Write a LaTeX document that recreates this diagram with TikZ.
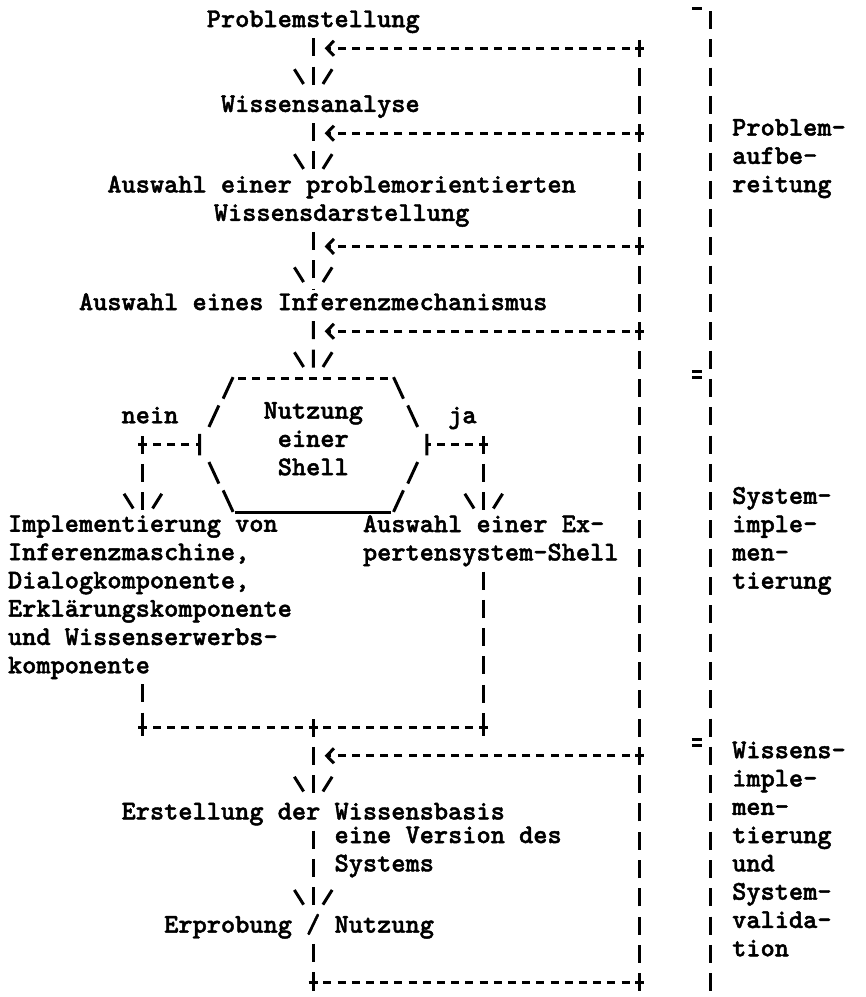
\documentclass[tikz,border=0pt]{standalone}
\usepackage{fontspec}
\usetikzlibrary{arrows.meta}

\newfontfamily\asciifont{lmmonolt10-bold.otf}[FakeBold=1.6]
\newcommand{\rowstrut}{\rule[-3pt]{0pt}{13.6pt}}

\begin{document}
\begin{tikzpicture}[x=7.1pt, y=-14.15pt, line width=1.5pt,
		txt/.style={font=\asciifont\fontsize{13.52pt}{14.15pt}\selectfont, inner sep=0pt, outer sep=0pt, anchor=north west, execute at begin node=\rowstrut, execute at end node=\rowstrut},
		vbar/.style={dash pattern=on 9pt off 5.15pt, dash phase=#1}, vbar/.default=4.5pt,
		hbar/.style={dash pattern=on 4pt off 3.1pt, dash phase=#1}, hbar/.default=2pt,
		back/.style={hbar, -{Straight Barb[length=3.6pt, width=7.5pt]}},
		vee/.pic={\draw (-1.33,-0.76) -- (-0.68,-0.24); \draw (1.33,-0.76) -- (0.68,-0.24);},
		knot/.pic={\draw (-0.32,0) -- (0.32,0) (0,-0.3) -- (0,0.3);}]
		\useasboundingbox (-0.563,-0.707) rectangle (60.423,34.523);

		\node[txt] (prob) at (14,-0.5) {Problemstellung};
		\node[txt] (wana) at (15,2.5) {Wissensanalyse};
		\node[txt, align=center] (wdar) at (7,5.5) {Auswahl einer problemorientierten\\Wissensdarstellung};
		\node[txt] (infm) at (5,9.5) {Auswahl eines Inferenzmechanismus};
		\node[txt, align=center] (shell) at (18,13.5) {Nutzung\\einer\\Shell};
		\node[txt] (nein) at (8,13.5) {nein};
		\node[txt] (ja) at (31,13.5) {ja};
		\node[txt, align=left] (impl) at (0,17.5) {Implementierung von\\Inferenzmaschine,\\Dialogkomponente,\\Erklärungskomponente\\und Wissenserwerbs-\\komponente};
		\node[txt, align=left] (shsel) at (25,17.5) {Auswahl einer Ex-\\pertensystem-Shell};
		\node[txt] (wbasis) at (8,27.5) {Erstellung der Wissensbasis};
		\node[txt, align=left] (version) at (23,28.5) {eine Version des\\Systems};
		\node[txt] (erprob) at (11,31.5) {Erprobung / Nutzung};

		\node[txt, align=left] (paufb) at (51,3.5) {Problem-\\aufbe-\\reitung};
		\node[txt, align=left] (psys) at (51,16.5) {System-\\imple-\\men-\\tierung};
		\node[txt, align=left] (pwiss) at (51,25.5) {Wissens-\\imple-\\men-\\tierung\\und\\System-\\valida-\\tion};

		\coordinate (hexn) at (21.5,12.5);
		\coordinate (hexw) at (13.5,15);
		\coordinate (hexe) at (29.5,15);
		\coordinate (lfork) at (9.5,15);
		\coordinate (rfork) at (33.5,15);
		\coordinate (lmerge) at (9.5,25);
		\coordinate (rmerge) at (33.5,25);
		\coordinate (lbot) at (44.5,34);
		\coordinate (btop) at (49.5,-0.5);
		\coordinate (bbot) at (49.5,34.5);
		\foreach \r in {1,4,8,11,26}
			\coordinate (ret\r) at (44.5,\r);

		\draw[vbar=11.575pt] (prob.south) -- (prob.south |- wana.north);
		\draw[vbar=11.575pt] (prob.south |- wana.south) -- (prob.south |- wdar.north);
		\draw[vbar=11.575pt] (prob.south |- wdar.south) -- (prob.south |- infm.north);
		\draw[vbar=11.575pt] (prob.south |- infm.south) -- (hexn);
		\foreach \n in {wana, wdar, infm, wbasis, erprob}
			\pic at (prob.south |- \n.north) {vee};
		\pic at (hexn) {vee};

		\draw[hbar=5.55pt] (16,12.65) -- (27,12.65);
		\draw (16,17.4) -- (27,17.4);
		\foreach \s in {-1,1}
			\draw[shift={(21.5,0)}, xscale=\s] (5.65,12.62) -- (6.35,13.38) (6.65,13.62) -- (7.35,14.38) (8,14.62) -- (8,15.38) (7.35,15.62) -- (6.65,16.38) (6.35,16.62) -- (5.65,17.38);

		\draw[hbar] (hexw) -- (lfork);
		\draw[hbar] (hexe) -- (rfork);
		\draw[vbar] (lfork) -- (lfork |- impl.north);
		\draw[vbar] (rfork) -- (rfork |- shsel.north);
		\pic at (lfork |- impl.north) {vee};
		\pic at (rfork |- shsel.north) {vee};
		\draw[vbar=11.575pt] (lfork |- impl.south) -- (lmerge);
		\draw[vbar=11.575pt] (rfork |- shsel.south) -- (rmerge);
		\draw[hbar] (lmerge) -- (rmerge);

		\draw[vbar] (prob.south |- lmerge) -- (prob.south |- wbasis.north);
		\draw[vbar=11.575pt] (prob.south |- wbasis.south) -- (prob.south |- erprob.north);
		\draw[vbar=11.575pt] (prob.south |- erprob.south) -- (prob.south |- lbot);
		\draw[hbar] (prob.south |- lbot) -- (lbot);
		\draw[vbar] (lbot) -- (ret1);
		\foreach \r in {1,4,8,11,26}
			\draw[back] (ret\r) -- ([xshift=5.7pt]prob.south |- ret\r);

		\foreach \c in {lfork, rfork, lmerge, rmerge, lbot, ret1, ret4, ret8, ret11, ret26}
			\pic at (\c) {knot};
		\pic at (prob.south |- lmerge) {knot};
		\pic at (prob.south |- lbot) {knot};

		\draw[vbar=11.575pt] (btop) -- (bbot);
		\foreach \y in {-0.42,12.42,12.62,25.42,25.62}
			\draw ([xshift=-9.5pt]btop |- 0,\y) -- ++(0.7,0);
	\end{tikzpicture}
\end{document}
